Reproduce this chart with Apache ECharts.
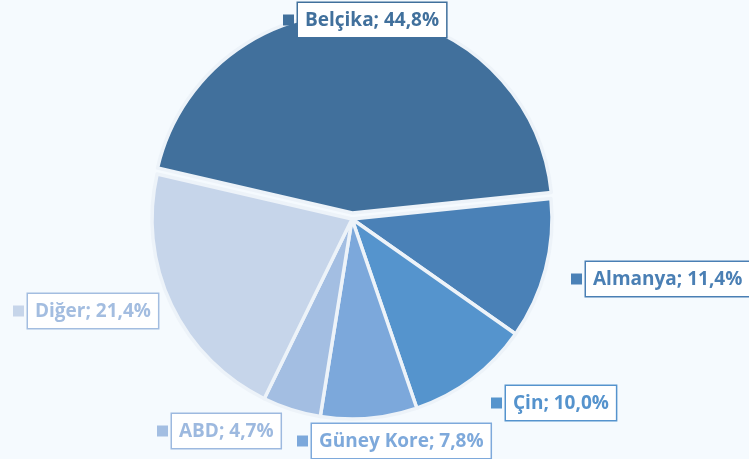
<!DOCTYPE html>
<html>
<head>
<meta charset="utf-8">
<script src="https://cdn.jsdelivr.net/npm/echarts@6/dist/echarts.min.js"></script>
<style>
  html, body { margin: 0; padding: 0; background: #f5fafe; }
  #main { width: 749px; height: 459px; }
</style>
</head>
<body>
<div id="main"></div>
<script>
// veriler
var countries = ['Belçika', 'Almanya', 'Çin', 'Güney Kore', 'ABD', 'Diğer'];
var shares = [44.8, 11.4, 10.0, 7.8, 4.7, 21.4];
var sliceColors = ['#41709c', '#4a81b7', '#5594cd', '#7ca8db', '#a3bee2', '#c6d5ea'];
var textColors = ['#41709c', '#4a7fb4', '#5593cd', '#7ea9db', '#9db9df', '#a3bde0'];

// etiket konumlari (kare isaretin sol kenari, dikey orta)
var labelPos = [[283, 20], [571, 279], [491, 403], [297, 441], [157, 431], [13, 311]];

var myChart = echarts.init(document.getElementById('main'));

// dilimler (Belçika disari cekili)
var sliceData = countries.map(function (name, i) {
  return {
    name: name,
    value: shares[i],
    selected: i === 0,
    itemStyle: { color: sliceColors[i] }
  };
});

// etiketler ayri bir seride (secili dilim etiketi labelLayout'u yok sayiyor)
var labelData = countries.map(function (name, i) {
  return {
    name: name,
    value: shares[i],
    label: {
      rich: {
        m: { width: 11, height: 11, backgroundColor: sliceColors[i] },
        s: { width: 4 },
        t: {
          color: textColors[i],
          fontFamily: 'Open Sans',
          fontWeight: 'bold',
          fontSize: 19,
          backgroundColor: '#ffffff',
          borderColor: textColors[i],
          borderWidth: 1.5,
          padding: [8, 7, 7, 7]
        }
      }
    }
  };
});

var option = {
  backgroundColor: '#f5fafe',
  animation: false,
  series: [
    {
      type: 'pie',
      center: [352, 219],
      radius: 200,
      startAngle: 167,
      selectedMode: 'single',
      selectedOffset: 6,
      emphasis: { disabled: true },
      itemStyle: {
        borderColor: '#edf3f9',
        borderWidth: 3.5
      },
      label: { show: false },
      labelLine: { show: false },
      data: sliceData
    },
    {
      type: 'pie',
      z: 3,
      center: [352, 219],
      radius: 200,
      startAngle: 167,
      silent: true,
      emphasis: { disabled: true },
      itemStyle: { color: 'rgba(0,0,0,0)', borderWidth: 0 },
      label: {
        show: true,
        position: 'outside',
        overflow: 'none',
        edgeDistance: 0,
        formatter: function (p) {
          return '{m|}{s|}{t|' + p.name + '; ' + p.value.toFixed(1).replace('.', ',') + '%}';
        }
      },
      labelLine: { show: false },
      labelLayout: function (params) {
        var pos = labelPos[params.dataIndex];
        return { x: pos[0], y: pos[1], align: 'left', verticalAlign: 'middle' };
      },
      data: labelData
    }
  ]
};

myChart.setOption(option);
</script>
</body>
</html>
